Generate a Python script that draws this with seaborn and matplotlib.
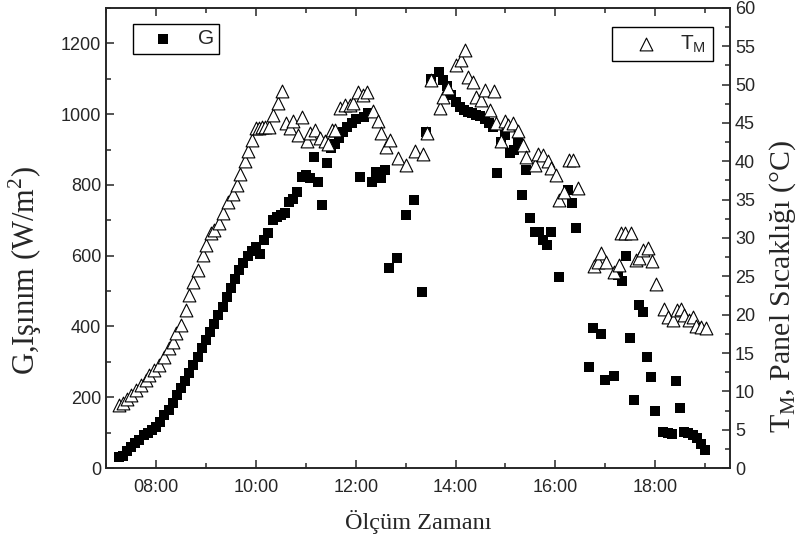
import seaborn as sns
import matplotlib.pyplot as plt
from matplotlib.ticker import MultipleLocator, FuncFormatter

# G, irradiance (W/m2)
g_times = ["07:15", "07:20", "07:25", "07:30", "07:35", "07:40", "07:45", "07:50", "07:55",
           "08:00", "08:05", "08:10", "08:15", "08:20", "08:25", "08:30", "08:35", "08:40",
           "08:45", "08:50", "08:55", "09:00", "09:05", "09:10", "09:15", "09:20", "09:25",
           "09:30", "09:35", "09:40", "09:45", "09:50", "09:55", "10:00", "10:05", "10:10",
           "10:15", "10:20", "10:25", "10:30", "10:35", "10:40", "10:45", "10:50", "10:55",
           "11:00", "11:05", "11:10", "11:15", "11:20", "11:25", "11:30", "11:35", "11:40",
           "11:45", "11:50", "11:55", "12:00", "12:05", "12:10", "12:15", "12:20", "12:25",
           "12:30", "12:35", "12:40", "12:50", "13:00", "13:10", "13:20", "13:25", "13:30",
           "13:40", "13:45", "13:50", "13:55", "14:00", "14:05", "14:10", "14:15", "14:20",
           "14:25", "14:30", "14:35", "14:40", "14:45", "14:50", "14:55", "15:00", "15:05",
           "15:10", "15:15", "15:20", "15:25", "15:30", "15:35", "15:40", "15:45", "15:50",
           "15:55", "16:05", "16:15", "16:20", "16:25", "16:40", "16:45", "16:55", "17:00",
           "17:10", "17:15", "17:20", "17:25", "17:30", "17:35", "17:40", "17:45", "17:50",
           "17:55", "18:00", "18:10", "18:15", "18:20", "18:25", "18:30", "18:35", "18:40",
           "18:45", "18:50", "18:55", "19:00"]
g_values = [32, 35, 48, 60, 70, 80, 92, 100, 108,
            117, 130, 150, 165, 183, 205, 225, 245, 268,
            290, 313, 338, 362, 385, 408, 432, 456, 482,
            508, 535, 560, 580, 600, 612, 625, 605, 645,
            663, 700, 710, 715, 720, 753, 760, 781, 823,
            828, 819, 880, 809, 743, 861, 903, 915, 932,
            950, 965, 974, 985, 823, 993, 1002, 809, 837,
            819, 842, 566, 594, 715, 757, 498, 950, 1100,
            1120, 1097, 1080, 1054, 1035, 1021, 1012, 1007, 1002,
            998, 995, 985, 975, 965, 835, 922, 941, 889,
            899, 922, 772, 842, 706, 668, 668, 644, 630,
            668, 541, 786, 750, 677, 286, 395, 379, 249,
            261, 545, 528, 599, 368, 192, 461, 442, 313,
            258, 162, 101, 99, 97, 246, 171, 101, 98,
            93, 84, 68, 51]

# T_M, panel temperature (C)
t_times = ["07:16", "07:20", "07:25", "07:30", "07:36", "07:42", "07:48", "07:52", "07:58",
           "08:04", "08:10", "08:16", "08:20", "08:24", "08:30", "08:36", "08:40", "08:45",
           "08:50", "08:56", "09:00", "09:06", "09:10", "09:16", "09:20", "09:26", "09:33",
           "09:37", "09:41", "09:47", "09:51", "09:55", "10:00", "10:04", "10:07", "10:11",
           "10:16", "10:21", "10:27", "10:32", "10:36", "10:41", "10:45", "10:51", "10:55",
           "11:01", "11:05", "11:11", "11:17", "11:23", "11:27", "11:31", "11:35", "11:41",
           "11:47", "11:53", "11:57", "12:03", "12:09", "12:13", "12:21", "12:27", "12:31",
           "12:36", "12:41", "12:51", "13:01", "13:11", "13:21", "13:26", "13:31", "13:41",
           "13:45", "13:51", "14:01", "14:07", "14:11", "14:15", "14:21", "14:25", "14:31",
           "14:36", "14:41", "14:46", "14:49", "14:55", "14:59", "15:03", "15:09", "15:15",
           "15:21", "15:25", "15:35", "15:39", "15:45", "15:51", "15:55", "16:01", "16:05",
           "16:11", "16:17", "16:21", "16:27", "16:47", "16:51", "16:55", "17:01", "17:11",
           "17:16", "17:19", "17:24", "17:31", "17:37", "17:41", "17:45", "17:51", "17:56",
           "18:01", "18:11", "18:15", "18:21", "18:26", "18:31", "18:35", "18:41", "18:45",
           "18:49", "18:55", "19:01"]
t_values = [8.2, 8.5, 9.0, 9.5, 10.2, 10.8, 11.5, 12.1, 12.8,
            13.4, 14.5, 15.6, 16.5, 17.6, 18.7, 20.6, 22.6, 24.3,
            25.8, 27.8, 29.1, 30.6, 31.0, 31.9, 33.2, 34.7, 35.8,
            36.9, 38.4, 40.0, 41.3, 42.8, 44.3, 44.3, 44.5, 44.5,
            44.5, 46.0, 47.6, 49.2, 45.0, 44.3, 45.2, 43.4, 45.8,
            42.6, 43.7, 44.1, 43.0, 42.6, 42.3, 44.1, 44.1, 46.9,
            47.3, 47.3, 47.6, 49.1, 48.7, 49.1, 46.5, 45.2, 43.7,
            41.9, 42.8, 40.4, 39.5, 41.3, 41.0, 43.7, 50.6, 46.9,
            48.4, 49.5, 52.6, 53.2, 54.5, 51.0, 50.4, 48.4, 48.0,
            49.3, 46.7, 49.2, 45.0, 42.6, 45.2, 44.7, 45.0, 43.9,
            42.1, 40.6, 39.5, 41.0, 40.8, 40.0, 39.1, 38.2, 35.0,
            36.0, 40.2, 40.2, 36.5, 26.3, 26.9, 28.0, 26.9, 25.6,
            26.5, 30.6, 30.6, 30.7, 27.1, 27.4, 28.4, 28.7, 27.0,
            24.0, 20.7, 19.7, 19.3, 20.6, 20.8, 20.0, 19.3, 19.7,
            18.5, 18.4, 18.2]


def to_hours(times):
    return [int(s[:2]) + int(s[3:]) / 60 for s in times]


sns.set_style("ticks")
plt.rcParams['font.family'] = ['Liberation Sans', 'DejaVu Sans']
plt.rcParams['mathtext.fontset'] = 'custom'
plt.rcParams['axes.linewidth'] = 1.2

fig = plt.figure(figsize=(8.04, 5.47), dpi=100)
ax = fig.add_axes([0.132, 0.1444, 0.776, 0.841])
ax2 = ax.twinx()

sns.scatterplot(x=to_hours(g_times), y=g_values, marker="s", color="black",
                edgecolor="black", linewidth=0, s=48, label="G", ax=ax, legend=False)
sns.scatterplot(x=to_hours(t_times), y=t_values, marker="^", facecolor="white",
                edgecolor="black", linewidth=0.8, s=85, label=r"T$_\mathregular{M}$",
                ax=ax2, legend=False)

ax.set_xlim(7.0, 19.5)
ax.set_ylim(0, 1300)
ax2.set_ylim(0, 60)

ax.xaxis.set_major_locator(MultipleLocator(2))
ax.xaxis.set_minor_locator(MultipleLocator(1))
ax.xaxis.set_major_formatter(FuncFormatter(lambda v, p: "%02d:00" % int(round(v))))
ax.yaxis.set_major_locator(MultipleLocator(200))
ax.yaxis.set_minor_locator(MultipleLocator(100))
ax2.yaxis.set_major_locator(MultipleLocator(5))
ax2.yaxis.set_minor_locator(MultipleLocator(2.5))

ax.tick_params(axis="both", which="both", direction="in", labelsize=13, top=True, width=1.1)
ax.tick_params(axis="y", right=False)
ax.tick_params(which="major", length=6)
ax.tick_params(which="minor", length=3.5)
ax.tick_params(axis="x", pad=8)
ax2.tick_params(axis="y", which="both", direction="in", labelsize=13, width=1.1)
ax2.tick_params(which="major", length=6)
ax2.tick_params(which="minor", length=3.5)

serif = ['Liberation Serif', 'DejaVu Serif']
ax.set_xlabel("Ölçüm Zamanı", family=serif, fontsize=17.5, labelpad=10)
ax.set_ylabel(r"G,Işınım (W/m$^\mathregular{2}$)", family=serif, fontsize=22)
ax2.set_ylabel(r"T$_\mathregular{M}$, Panel Sıcaklığı (°C)", family=serif, fontsize=21.5)
ax.yaxis.set_label_coords(-0.1, 0.43)
ax2.yaxis.set_label_coords(1.06, 0.395)

for a in (ax, ax2):
    for sp in a.spines.values():
        sp.set_linewidth(1.2)

ax.legend(loc="upper left", bbox_to_anchor=(0.043, 0.965), borderaxespad=0,
          fancybox=False, edgecolor="black", framealpha=1, fontsize=15,
          handlelength=2.4, handletextpad=0.45, borderpad=0.25)
ax2.legend(loc="upper right", bbox_to_anchor=(0.972, 0.958), borderaxespad=0,
           fancybox=False, edgecolor="black", framealpha=1, fontsize=15,
           handlelength=2.7, handletextpad=0.3, borderpad=0.3)

fig.savefig("out.png", dpi=100)
